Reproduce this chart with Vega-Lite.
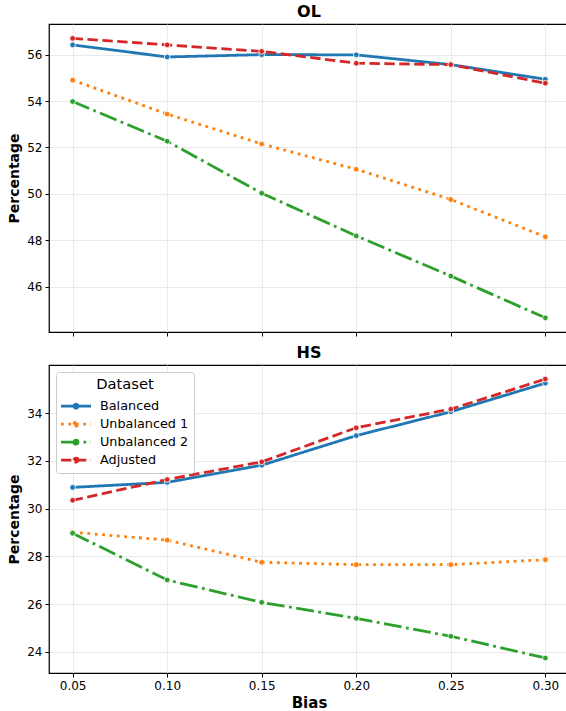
{
  "$schema": "https://vega.github.io/schema/vega-lite/v6.json",
  "autosize": {"type": "pad"},
  "padding": {"left": 7, "top": 3, "right": 0, "bottom": 0},
  "background": "white",
  "data": {"values": [
    {"panel": "OL", "dataset": "Balanced", "bias": 0.05, "value": 56.42},
    {"panel": "OL", "dataset": "Balanced", "bias": 0.10, "value": 55.90},
    {"panel": "OL", "dataset": "Balanced", "bias": 0.15, "value": 56.00},
    {"panel": "OL", "dataset": "Balanced", "bias": 0.20, "value": 55.99},
    {"panel": "OL", "dataset": "Balanced", "bias": 0.25, "value": 55.57},
    {"panel": "OL", "dataset": "Balanced", "bias": 0.30, "value": 54.94},
    {"panel": "OL", "dataset": "Unbalanced 1", "bias": 0.05, "value": 54.90},
    {"panel": "OL", "dataset": "Unbalanced 1", "bias": 0.10, "value": 53.44},
    {"panel": "OL", "dataset": "Unbalanced 1", "bias": 0.15, "value": 52.15},
    {"panel": "OL", "dataset": "Unbalanced 1", "bias": 0.20, "value": 51.06},
    {"panel": "OL", "dataset": "Unbalanced 1", "bias": 0.25, "value": 49.76},
    {"panel": "OL", "dataset": "Unbalanced 1", "bias": 0.30, "value": 48.15},
    {"panel": "OL", "dataset": "Unbalanced 2", "bias": 0.05, "value": 53.98},
    {"panel": "OL", "dataset": "Unbalanced 2", "bias": 0.10, "value": 52.27},
    {"panel": "OL", "dataset": "Unbalanced 2", "bias": 0.15, "value": 50.03},
    {"panel": "OL", "dataset": "Unbalanced 2", "bias": 0.20, "value": 48.19},
    {"panel": "OL", "dataset": "Unbalanced 2", "bias": 0.25, "value": 46.46},
    {"panel": "OL", "dataset": "Unbalanced 2", "bias": 0.30, "value": 44.66},
    {"panel": "OL", "dataset": "Adjusted", "bias": 0.05, "value": 56.70},
    {"panel": "OL", "dataset": "Adjusted", "bias": 0.10, "value": 56.42},
    {"panel": "OL", "dataset": "Adjusted", "bias": 0.15, "value": 56.14},
    {"panel": "OL", "dataset": "Adjusted", "bias": 0.20, "value": 55.63},
    {"panel": "OL", "dataset": "Adjusted", "bias": 0.25, "value": 55.57},
    {"panel": "OL", "dataset": "Adjusted", "bias": 0.30, "value": 54.77},
    {"panel": "HS", "dataset": "Balanced", "bias": 0.05, "value": 30.89},
    {"panel": "HS", "dataset": "Balanced", "bias": 0.10, "value": 31.10},
    {"panel": "HS", "dataset": "Balanced", "bias": 0.15, "value": 31.82},
    {"panel": "HS", "dataset": "Balanced", "bias": 0.20, "value": 33.06},
    {"panel": "HS", "dataset": "Balanced", "bias": 0.25, "value": 34.06},
    {"panel": "HS", "dataset": "Balanced", "bias": 0.30, "value": 35.26},
    {"panel": "HS", "dataset": "Unbalanced 1", "bias": 0.05, "value": 29.01},
    {"panel": "HS", "dataset": "Unbalanced 1", "bias": 0.10, "value": 28.68},
    {"panel": "HS", "dataset": "Unbalanced 1", "bias": 0.15, "value": 27.75},
    {"panel": "HS", "dataset": "Unbalanced 1", "bias": 0.20, "value": 27.65},
    {"panel": "HS", "dataset": "Unbalanced 1", "bias": 0.25, "value": 27.65},
    {"panel": "HS", "dataset": "Unbalanced 1", "bias": 0.30, "value": 27.86},
    {"panel": "HS", "dataset": "Unbalanced 2", "bias": 0.05, "value": 28.97},
    {"panel": "HS", "dataset": "Unbalanced 2", "bias": 0.10, "value": 27.01},
    {"panel": "HS", "dataset": "Unbalanced 2", "bias": 0.15, "value": 26.07},
    {"panel": "HS", "dataset": "Unbalanced 2", "bias": 0.20, "value": 25.40},
    {"panel": "HS", "dataset": "Unbalanced 2", "bias": 0.25, "value": 24.65},
    {"panel": "HS", "dataset": "Unbalanced 2", "bias": 0.30, "value": 23.74},
    {"panel": "HS", "dataset": "Adjusted", "bias": 0.05, "value": 30.35},
    {"panel": "HS", "dataset": "Adjusted", "bias": 0.10, "value": 31.22},
    {"panel": "HS", "dataset": "Adjusted", "bias": 0.15, "value": 31.96},
    {"panel": "HS", "dataset": "Adjusted", "bias": 0.20, "value": 33.39},
    {"panel": "HS", "dataset": "Adjusted", "bias": 0.25, "value": 34.17},
    {"panel": "HS", "dataset": "Adjusted", "bias": 0.30, "value": 35.43}
  ]},
  "config": {
    "font": "DejaVu Sans",
    "view": {"stroke": "#000000", "strokeWidth": 1.25},
    "axis": {
      "domain": false, "grid": true, "gridColor": "#e8e8e8", "gridWidth": 0.9,
      "tickColor": "#000000", "tickSize": 4, "tickWidth": 1,
      "labelFontSize": 12, "labelColor": "#000000", "labelPadding": 3,
      "titleFontSize": 14, "titleFontWeight": "bold", "titleColor": "#000000"
    },
    "title": {"fontSize": 16, "fontWeight": "bold", "offset": 4, "color": "#000000"}
  },
  "bounds": "flush",
  "spacing": 33,
  "resolve": {
    "scale": {"color": "independent", "strokeDash": "independent", "fill": "independent"},
    "legend": {"color": "independent", "strokeDash": "independent", "fill": "independent"}
  },
  "vconcat": [
    {
      "title": "OL",
      "width": 520,
      "height": 308,
      "transform": [{"filter": "datum.panel === 'OL'"}],
      "encoding": {
        "x": {"field": "bias", "type": "quantitative",
          "scale": {"domain": [0.0375, 0.3125], "nice": false, "zero": false},
          "axis": {"values": [0.05, 0.1, 0.15, 0.2, 0.25, 0.3], "labels": false, "title": null}},
        "y": {"field": "value", "type": "quantitative",
          "scale": {"domain": [44.05, 57.32], "nice": false, "zero": false},
          "axis": {"values": [46, 48, 50, 52, 54, 56], "title": "Percentage", "titlePadding": 5}}
      },
      "layer": [
        {
          "mark": {"type": "line", "strokeWidth": 2.8},
          "encoding": {
            "color": {"field": "dataset", "type": "nominal", "legend": null,
              "scale": {"domain": ["Balanced", "Unbalanced 1", "Unbalanced 2", "Adjusted"], "range": ["#1f77b4", "#ff7f0e", "#2ca02c", "#d62728"]}},
            "strokeDash": {"field": "dataset", "type": "nominal", "legend": null,
              "scale": {"domain": ["Balanced", "Unbalanced 1", "Unbalanced 2", "Adjusted"], "range": [[1, 0], [2.8, 4.6], [17.9, 4.5, 2.8, 4.5], [10.4, 4.5]]}}
          }
        },
        {
          "mark": {"type": "point", "filled": true, "size": 32, "stroke": "white", "strokeWidth": 0.8, "opacity": 1},
          "encoding": {
            "fill": {"field": "dataset", "type": "nominal", "legend": null,
              "scale": {"domain": ["Balanced", "Unbalanced 1", "Unbalanced 2", "Adjusted"], "range": ["#1f77b4", "#ff7f0e", "#2ca02c", "#d62728"]}}
          }
        }
      ]
    },
    {
      "title": "HS",
      "width": 520,
      "height": 308,
      "transform": [{"filter": "datum.panel === 'HS'"}],
      "encoding": {
        "x": {"field": "bias", "type": "quantitative",
          "scale": {"domain": [0.0375, 0.3125], "nice": false, "zero": false},
          "axis": {"values": [0.05, 0.1, 0.15, 0.2, 0.25, 0.3], "format": ".2f", "title": "Bias", "titleFontSize": 15, "titlePadding": 4}},
        "y": {"field": "value", "type": "quantitative",
          "scale": {"domain": [23.11, 36.02], "nice": false, "zero": false},
          "axis": {"values": [24, 26, 28, 30, 32, 34], "title": "Percentage", "titlePadding": 5}}
      },
      "layer": [
        {
          "mark": {"type": "line", "strokeWidth": 2.8},
          "encoding": {
            "color": {"field": "dataset", "type": "nominal",
              "scale": {"domain": ["Balanced", "Unbalanced 1", "Unbalanced 2", "Adjusted"], "range": ["#1f77b4", "#ff7f0e", "#2ca02c", "#d62728"]},
              "legend": {"orient": "none", "legendX": 7, "legendY": 7, "title": "Dataset",
                "titleFontSize": 14.7, "titleFontWeight": "normal", "titleColor": "#000000", "titlePadding": 8,
                "titleAnchor": "middle", "titleAlign": "center",
                "labelFontSize": 12.8, "labelColor": "#000000", "labelOffset": 26,
                "symbolType": "M-1.3,0H4.7M1.3,0A0.4,0.4,0,1,1,2.1,0A0.4,0.4,0,1,1,1.3,0",
                "symbolSize": 100, "symbolStrokeWidth": 2.8,
                "rowPadding": 1, "fillColor": "white", "strokeColor": "#cccccc",
                "cornerRadius": 3, "padding": 5}},
            "strokeDash": {"field": "dataset", "type": "nominal",
              "scale": {"domain": ["Balanced", "Unbalanced 1", "Unbalanced 2", "Adjusted"], "range": [[1, 0], [2.8, 4.6], [17.9, 4.5, 2.8, 4.5], [10.4, 4.5]]},
              "legend": {"orient": "none", "legendX": 7, "legendY": 7, "title": "Dataset"}}
          }
        },
        {
          "mark": {"type": "point", "filled": true, "size": 32, "stroke": "white", "strokeWidth": 0.8, "opacity": 1},
          "encoding": {
            "fill": {"field": "dataset", "type": "nominal",
              "scale": {"domain": ["Balanced", "Unbalanced 1", "Unbalanced 2", "Adjusted"], "range": ["#1f77b4", "#ff7f0e", "#2ca02c", "#d62728"]},
              "legend": {"orient": "none", "legendX": 7, "legendY": 7, "title": "Dataset"}}
          }
        }
      ]
    }
  ]
}
